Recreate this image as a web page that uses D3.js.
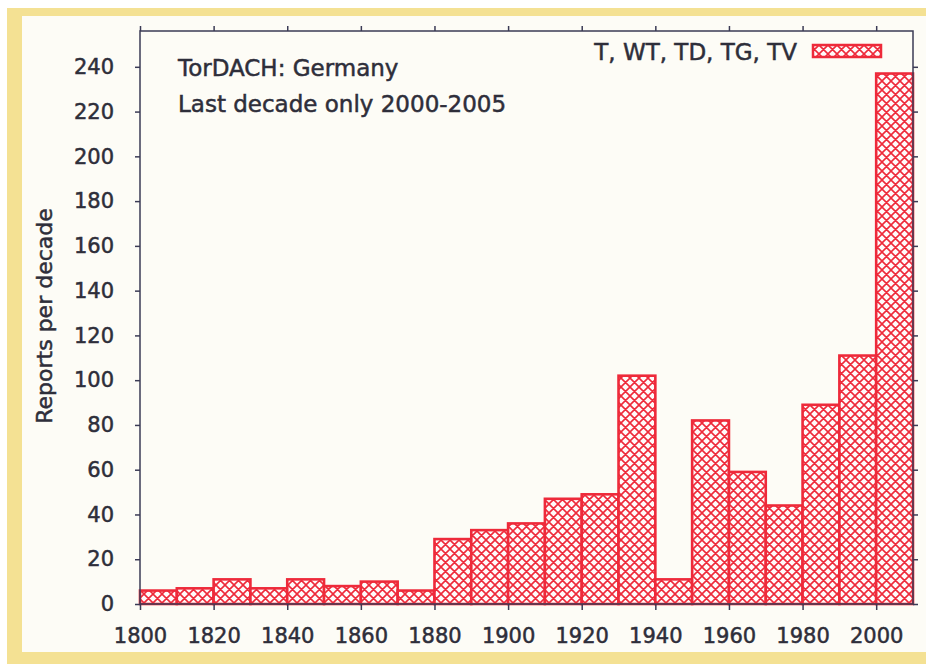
<!DOCTYPE html>
<meta charset="utf-8">
<style>
    body { margin: 0; background: #fff; }
    text { font-family: "DejaVu Sans", sans-serif; fill: #2e2e3a; stroke: #2e2e3a; stroke-width: 0.5px; }
    .axis path, .axis line { stroke: #3b3b55; stroke-width: 1.5px; }
    .axis text { font-size: 21px; }
    .bars rect { fill: url(#hatch); stroke: #ee2a3a; stroke-width: 2.6px; }
</style>
<svg width="926" height="664"></svg>
<script src="https://d3js.org/d3.v7.min.js"></script>
<script>
    // decade start years and reports per decade (last decade = 2000-2005 only)
    var decades = [1800, 1810, 1820, 1830, 1840, 1850, 1860, 1870, 1880, 1890, 1900,
                   1910, 1920, 1930, 1940, 1950, 1960, 1970, 1980, 1990, 2000];
    var reports = [6, 7, 11, 7, 11, 8, 10, 6, 29, 33, 36,
                   47, 49, 102, 11, 82, 59, 44, 89, 111, 237];
    var xTicks = [1800, 1820, 1840, 1860, 1880, 1900, 1920, 1940, 1960, 1980, 2000];
    var yTicks = [0, 20, 40, 60, 80, 100, 120, 140, 160, 180, 200, 220, 240];
    var seriesName = "T, WT, TD, TG, TV";
    var notes = ["TorDACH: Germany", "Last decade only 2000-2005"];

    var svg = d3.select("svg");

    // scanned page look: yellow frame around a cream sheet
    svg.append("rect").attr("x", 7).attr("y", 8).attr("width", 926).attr("height", 664)
        .attr("fill", "#f4e193");
    svg.append("rect").attr("x", 22).attr("y", 16).attr("width", 904).attr("height", 636)
        .attr("fill", "#fdfcf6");

    // crosshatch fill like the gnuplot pattern
    var defs = svg.append("defs");
    var pat = defs.append("pattern").attr("id", "hatch")
        .attr("patternUnits", "userSpaceOnUse").attr("width", 9).attr("height", 9);
    pat.append("rect").attr("width", 9).attr("height", 9).attr("fill", "#fffafa");
    pat.append("path").attr("d", "M-2,2 L2,-2 M0,9 L9,0 M7,11 L11,7 M-2,7 L2,11 M0,0 L9,9 M7,-2 L11,2")
        .attr("stroke", "#ee2a3a").attr("stroke-width", 1.6);

    var mLeft = 140, mRight = 913, mTop = 31, mBottom = 604;

    var x = d3.scaleLinear().domain([1800, 2010]).range([mLeft, mRight]);
    var y = d3.scaleLinear().domain([0, 256]).range([mBottom, mTop]);

    svg.append("g").attr("class", "bars")
        .selectAll("rect")
        .data(decades)
        .enter().append("rect")
        .attr("x", function (d) { return x(d); })
        .attr("width", function (d) { return x(d + 10) - x(d); })
        .attr("y", function (d, i) { return y(reports[i]); })
        .attr("height", function (d, i) { return y(0) - y(reports[i]); });

    // axes, ticks outward on all four sides
    svg.append("g").attr("class", "axis")
        .attr("transform", "translate(0," + mBottom + ")")
        .call(d3.axisBottom(x).tickValues(xTicks).tickSize(6).tickPadding(18).tickFormat(d3.format("d")));
    svg.append("g").attr("class", "axis")
        .attr("transform", "translate(0," + mTop + ")")
        .call(d3.axisTop(x).tickValues(xTicks).tickSize(5).tickFormat(""));
    svg.append("g").attr("class", "axis")
        .attr("transform", "translate(" + mLeft + ",0)")
        .call(d3.axisLeft(y).tickValues(yTicks).tickSize(5).tickPadding(21));
    svg.append("g").attr("class", "axis")
        .attr("transform", "translate(" + mRight + ",0)")
        .call(d3.axisRight(y).tickValues(yTicks).tickSize(5).tickFormat(""));
    svg.selectAll(".axis .domain").remove();
    svg.append("rect").attr("x", mLeft).attr("y", mTop)
        .attr("width", mRight - mLeft).attr("height", mBottom - mTop)
        .attr("fill", "none").attr("stroke", "#3b3b55").attr("stroke-width", 1.5);

    svg.append("text")
        .attr("transform", "translate(52," + 316 + ") rotate(-90)")
        .attr("text-anchor", "middle")
        .style("font-size", "22px")
        .text("Reports per decade");

    svg.selectAll(".note")
        .data(notes)
        .enter().append("text")
        .attr("class", "note")
        .attr("x", 178)
        .attr("y", function (d, i) { return 76 + i * 36; })
        .style("font-size", "23px")
        .text(function (d) { return d; });

    // legend
    svg.append("text")
        .attr("x", 797).attr("y", 60)
        .attr("text-anchor", "end")
        .style("font-size", "23px")
        .text(seriesName);
    svg.append("rect")
        .attr("x", 813).attr("y", 45).attr("width", 68).attr("height", 12)
        .attr("fill", "url(#hatch)").attr("stroke", "#ee2a3a").attr("stroke-width", 2.5);
</script>
